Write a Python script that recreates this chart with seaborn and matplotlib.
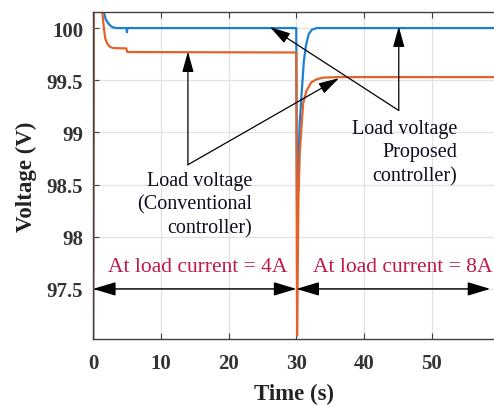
import numpy as np
import pandas as pd
import matplotlib
matplotlib.use("Agg")
import matplotlib.pyplot as plt
import seaborn as sns

# Load voltage, proposed controller (time in s, voltage in V)
t_prop = [0.0, 0.15, 0.8, 1.3, 1.6, 1.9, 2.2, 2.6, 3.0, 3.5, 4.95, 5.0, 5.08,
          29.98, 30.1, 30.3, 30.5, 30.8, 31.1, 31.4, 31.8, 32.3, 33.0, 59.5]
v_prop = [96.5, 101.6, 100.6, 100.25, 100.15, 100.08, 100.05, 100.02, 100.005, 100.0,
          100.0, 99.96, 100.0,
          100.0, 98.26, 98.75, 99.1, 99.4, 99.68, 99.83, 99.94, 99.985, 100.0, 100.0]

# Load voltage, conventional controller
t_conv = [0.0, 0.15, 0.8, 1.3, 1.6, 1.8, 2.1, 2.5, 3.0, 4.9, 5.05,
          29.98, 30.1, 30.3, 30.5, 30.75, 31.0, 31.5, 32.2, 33.0, 34.0, 36.0, 59.5]
v_conv = [96.5, 101.5, 100.7, 100.2, 100.0, 99.9, 99.85, 99.82, 99.808, 99.805, 99.77,
          99.766, 97.05, 98.36, 98.8, 99.05, 99.28, 99.4, 99.48, 99.51, 99.525, 99.53, 99.53]

x_ticks = [0, 10, 20, 30, 40, 50]
y_ticks = [97.5, 98, 98.5, 99, 99.5, 100]
y_tick_labels = ["97.5", "98", "98.5", "99", "99.5", "100"]

df = pd.concat([
    pd.DataFrame({"Time": t_prop, "Voltage": v_prop, "Controller": "Proposed"}),
    pd.DataFrame({"Time": t_conv, "Voltage": v_conv, "Controller": "Conventional"}),
], ignore_index=True)

sns.set_style("ticks")
plt.rcParams["font.family"] = ["Liberation Serif", "DejaVu Serif"]

fig = plt.figure(figsize=(4.94, 4.06), dpi=100)
ax = fig.add_axes([0.1883, 0.1626, 0.8117, 0.8054])

sns.lineplot(data=df, x="Time", y="Voltage", hue="Controller", estimator=None,
             sort=False, palette={"Proposed": "#1a7fd4", "Conventional": "#e2632a"},
             hue_order=["Proposed", "Conventional"], linewidth=1.6, legend=False, ax=ax)

ax.set_xlim(0, 59.15)
ax.set_ylim(97.02, 100.154)
ax.set_xticks(x_ticks)
ax.set_yticks(y_ticks)
ax.set_yticklabels(y_tick_labels)
ax.grid(True, color="#e2e2e2", linewidth=0.9)
ax.set_axisbelow(True)
ax.tick_params(direction="in", top=True, right=False, length=4, width=0.8,
               colors="#404040", labelcolor="#333333", labelsize=15)
ax.tick_params(axis="x", pad=10)
ax.tick_params(axis="y", pad=7)
for lab in ax.get_xticklabels() + ax.get_yticklabels():
    lab.set_fontweight("bold")
for side in ["left", "bottom", "top"]:
    ax.spines[side].set_color("#404040")
    ax.spines[side].set_linewidth(1.0)
ax.spines["right"].set_visible(False)

ax.set_xlabel("Time (s)", fontsize=16.5, fontweight="bold", color="#222222", labelpad=7)
ax.set_ylabel("Voltage (V)", fontsize=16.5, fontweight="bold", color="#222222", labelpad=7)

# Arrows marking the conventional controller trace
arrow_kw = dict(arrowstyle="-|>,head_length=0.9,head_width=0.25", color="black",
                lw=0.9, mutation_scale=14, shrinkA=0, shrinkB=0)
ax.annotate("", xy=(14.0, 99.775), xytext=(14.0, 98.69), arrowprops=arrow_kw)
ax.annotate("", xy=(36.3, 99.52), xytext=(14.0, 98.69), arrowprops=arrow_kw)
ax.text(23.45, 98.63, "Load voltage\n(Conventional\ncontroller)", ha="right", va="top",
        fontsize=14.5, color="#0d0d1f", linespacing=1.32)

# Arrows marking the proposed controller trace
ax.annotate("", xy=(45.1, 100.015), xytext=(45.1, 99.21), arrowprops=arrow_kw)
ax.annotate("", xy=(26.1, 100.01), xytext=(45.1, 99.21), arrowprops=arrow_kw)
ax.text(53.7, 99.13, "Load voltage\nProposed\ncontroller)", ha="right", va="top",
        fontsize=14.5, color="#0d0d1f", linespacing=1.32)

# Load current intervals
span_kw = dict(arrowstyle="<|-|>,head_length=1.0,head_width=0.3", color="black",
               lw=1.0, mutation_scale=14, shrinkA=0, shrinkB=0)
ax.annotate("", xy=(0.0, 97.5), xytext=(30.0, 97.5), arrowprops=span_kw)
ax.annotate("", xy=(30.0, 97.5), xytext=(58.6, 97.5), arrowprops=span_kw)
ax.text(15.5, 97.71, "At load current = 4A", ha="center", va="center",
        fontsize=15.5, color="#c0184a")
ax.text(45.7, 97.71, "At load current = 8A", ha="center", va="center",
        fontsize=15.5, color="#c0184a")

fig.savefig("out.png", dpi=100)
